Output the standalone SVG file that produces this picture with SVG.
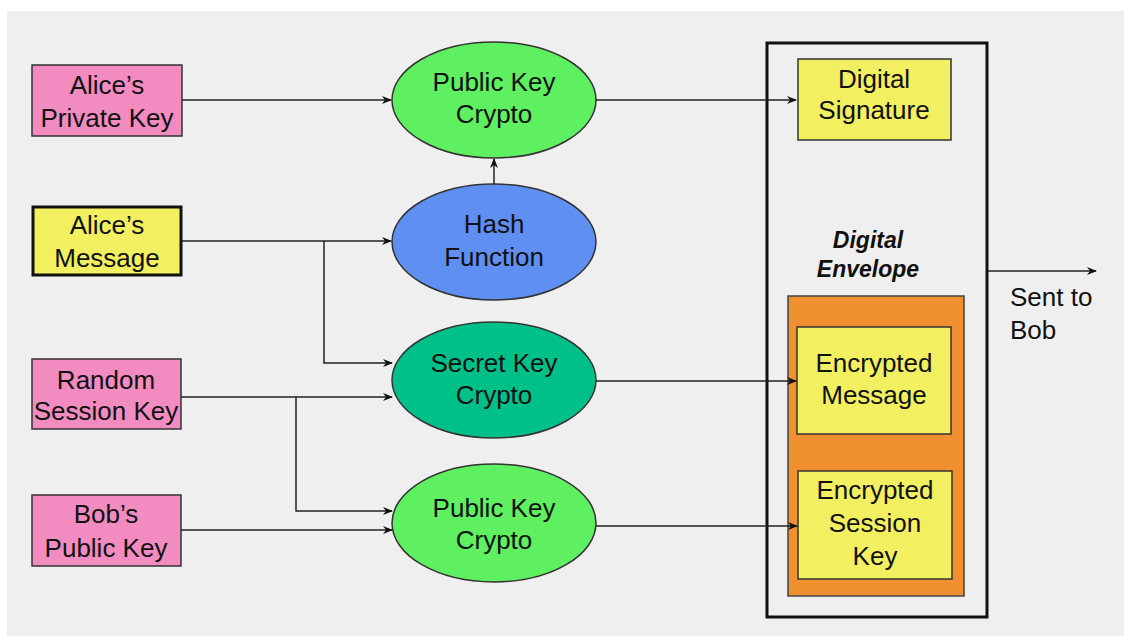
<svg xmlns="http://www.w3.org/2000/svg" width="1124" height="636" viewBox="0 0 1124 636">
<defs>
<marker id="ah" markerWidth="10" markerHeight="8" refX="9" refY="4" orient="auto" markerUnits="userSpaceOnUse">
<path d="M0,0 L10,4 L0,8 L3,4 Z" fill="#111"/>
</marker>
<style>
text{font-family:"Liberation Sans",Arial,sans-serif;font-size:26px;fill:#111;text-anchor:middle}
.pink{fill:#f28cc0;stroke:#333;stroke-width:1.5}
.yel{fill:#f2f060;stroke:#333;stroke-width:1.5}
.yelb{fill:#f2f060;stroke:#111;stroke-width:3}
.ell{stroke:#333;stroke-width:1.5}
.conn{fill:none;stroke:#222;stroke-width:1.5}
.env{font-weight:bold;font-style:italic;font-size:23px}
</style>
</defs>
<rect x="0" y="0" width="1124" height="636" fill="#ffffff"/>
<rect x="7" y="11" width="1117" height="625" fill="#efefef"/>

<g id="alice-private-key">
<rect class="pink" x="32" y="65" width="150" height="71"/>
<text x="107" y="94">Alice&#8217;s</text>
<text x="107" y="127">Private Key</text>
</g>
<g id="alice-message">
<rect class="yelb" x="33" y="207" width="148" height="68"/>
<text x="107" y="234">Alice&#8217;s</text>
<text x="107" y="267">Message</text>
</g>
<g id="random-session-key">
<rect class="pink" x="32" y="359" width="149" height="70"/>
<text x="106" y="389">Random</text>
<text x="106" y="420">Session Key</text>
</g>
<g id="bob-public-key">
<rect class="pink" x="32" y="495" width="149" height="71"/>
<text x="106" y="523">Bob&#8217;s</text>
<text x="106" y="557">Public Key</text>
</g>

<g id="public-key-crypto-1">
<ellipse class="ell" cx="494" cy="100" rx="102" ry="58" fill="#5ef060"/>
<text x="494" y="91">Public Key</text>
<text x="494" y="123">Crypto</text>
</g>
<g id="hash-function">
<ellipse class="ell" cx="494" cy="242" rx="102" ry="58" fill="#5f8ff0"/>
<text x="494" y="233">Hash</text>
<text x="494" y="266">Function</text>
</g>
<g id="secret-key-crypto">
<ellipse class="ell" cx="494" cy="380" rx="102" ry="58" fill="#00c08a"/>
<text x="494" y="372">Secret Key</text>
<text x="494" y="404">Crypto</text>
</g>
<g id="public-key-crypto-2">
<ellipse class="ell" cx="494" cy="523" rx="102" ry="59" fill="#5ef060"/>
<text x="494" y="517">Public Key</text>
<text x="494" y="549">Crypto</text>
</g>

<g id="outer-box">
<rect x="767" y="43" width="220" height="574" fill="none" stroke="#111" stroke-width="3"/>
</g>
<g id="digital-signature">
<rect class="yel" x="798" y="59" width="153" height="81"/>
<text x="874" y="88">Digital</text>
<text x="874" y="119">Signature</text>
</g>
<g id="digital-envelope">
<text class="env" x="868" y="248">Digital</text>
<text class="env" x="868" y="277">Envelope</text>
<rect x="788" y="296" width="176" height="300" fill="#f09030" stroke="#444" stroke-width="1.5"/>
</g>
<g id="encrypted-message">
<rect class="yel" x="797" y="327" width="154" height="107"/>
<text x="874" y="372">Encrypted</text>
<text x="874" y="404">Message</text>
</g>
<g id="encrypted-session-key">
<rect class="yel" x="798" y="471" width="154" height="108"/>
<text x="875" y="499">Encrypted</text>
<text x="875" y="532">Session</text>
<text x="875" y="565">Key</text>
</g>
<g id="sent-to-bob">
<text x="1010" y="306" style="text-anchor:start">Sent to</text>
<text x="1010" y="339" style="text-anchor:start">Bob</text>
</g>

<g id="connectors">
<path class="conn" d="M182,100 H391" marker-end="url(#ah)"/>
<path class="conn" d="M182,241 H391" marker-end="url(#ah)"/>
<path class="conn" d="M324,241 V363 H392" marker-end="url(#ah)"/>
<path class="conn" d="M181,397 H392" marker-end="url(#ah)"/>
<path class="conn" d="M296,397 V511 H392" marker-end="url(#ah)"/>
<path class="conn" d="M181,530 H392" marker-end="url(#ah)"/>
<path class="conn" d="M494,184 V159" marker-end="url(#ah)"/>
<path class="conn" d="M596,100 H796" marker-end="url(#ah)"/>
<path class="conn" d="M596,381 H796" marker-end="url(#ah)"/>
<path class="conn" d="M596,526 H797" marker-end="url(#ah)"/>
<path class="conn" d="M988,271 H1096" marker-end="url(#ah)"/>
</g>
</svg>
